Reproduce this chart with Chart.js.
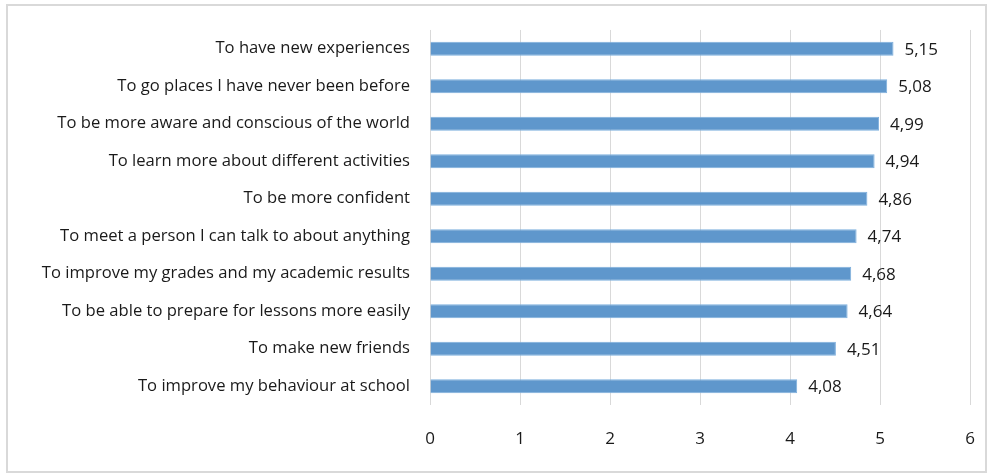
<!DOCTYPE html>
<html><head><meta charset="utf-8">
<script src="https://cdn.jsdelivr.net/npm/chart.js@4"></script>
<style>
html,body{margin:0;padding:0;background:#fff;}
#wrap{position:absolute;left:0;top:0;width:987px;height:473px;}
#frame{position:absolute;left:6px;top:4px;width:977px;height:465px;border:2px solid #D9D9D9;box-sizing:content-box;}
</style></head>
<body>
<div id="wrap"><div id="frame"></div><canvas id="c" width="987" height="473"></canvas></div>
<script>
const categories = [
  "To have new experiences",
  "To go places I have never been before",
  "To be more aware and conscious of the world",
  "To learn more about different activities",
  "To be more confident",
  "To meet a person I can talk to about anything",
  "To improve my grades and my academic results",
  "To be able to prepare for lessons more easily",
  "To make new friends",
  "To improve my behaviour at school"
];
const values = [5.15, 5.08, 4.99, 4.94, 4.86, 4.74, 4.68, 4.64, 4.51, 4.08];
const xTicks = [0, 1, 2, 3, 4, 5, 6];

const FONT = "'Open Sans', Lato, sans-serif";
const FSIZE = 16.6;

const labelPlugin = {
  id: 'valueLabels',
  afterDatasetsDraw(chart) {
    const ctx = chart.ctx;
    const meta = chart.getDatasetMeta(0);
    ctx.save();
    ctx.font = "17px " + FONT;
    ctx.fillStyle = "#1a1a1a";
    ctx.textAlign = "left";
    ctx.textBaseline = "middle";
    meta.data.forEach((bar, i) => {
      ctx.fillText(values[i].toFixed(2).replace('.', ','), bar.x + 11, bar.y + 1);
    });
    ctx.restore();
  }
};

new Chart(document.getElementById('c'), {
  type: 'bar',
  data: {
    labels: categories,
    datasets: [{
      data: values,
      backgroundColor: '#5F97CC',
      borderColor: '#7DAFDD',
      borderWidth: 1,
      categoryPercentage: 1,
      barPercentage: 0.37
    }]
  },
  options: {
    indexAxis: 'y',
    responsive: false,
    animation: false,
    layout: { padding: { top: 28, right: 17, bottom: 0, left: 0 } },
    plugins: { legend: { display: false }, tooltip: { enabled: false } },
    scales: {
      x: {
        min: 0, max: 6,
        afterBuildTicks: s => { s.ticks = xTicks.map(v => ({ value: v })); },
        afterFit: s => { s.height = 68; s.paddingLeft = 0; s.paddingRight = 0; },
        grid: { color: '#D9D9D9', lineWidth: 1, drawTicks: false },
        border: { display: false },
        ticks: { padding: 24, color: '#1a1a1a', font: { family: FONT, size: 17 } }
      },
      y: {
        afterFit: s => { s.width = 430; s.paddingLeft = 0; s.paddingRight = 0; },
        grid: { display: false, drawTicks: false },
        border: { display: false },
        ticks: { padding: 20, color: '#1a1a1a', font: { family: FONT, size: FSIZE } }
      }
    }
  },
  plugins: [labelPlugin]
});
</script>
</body></html>
